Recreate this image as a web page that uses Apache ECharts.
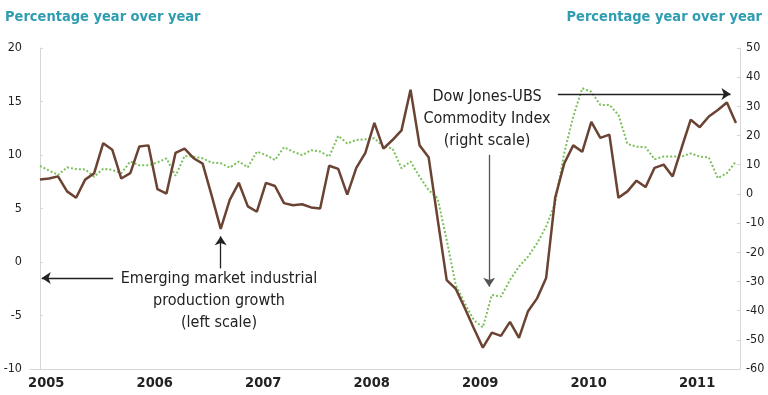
<!DOCTYPE html>
<html>
<head>
<meta charset="utf-8">
<script src="https://cdn.jsdelivr.net/npm/echarts@6/dist/echarts.min.js"></script>
<style>
  html, body { margin: 0; padding: 0; background: #fff; }
  #chart { width: 768px; height: 395px; }
</style>
</head>
<body>
<div id="chart"></div>
<script>
// monthly points, Jan 2005 .. Jun 2011 (index 0..77)
var years = ['2005', '2006', '2007', '2008', '2009', '2010', '2011']

// emerging market industrial production growth, % y/y (left scale)
var industrial = [
  7.7, 7.8, 8.0, 6.6, 6.0, 7.7, 8.3, 11.1, 10.5, 7.8, 8.3, 10.8,
  10.9, 6.8, 6.4, 10.2, 10.6, 9.7, 9.2, 6.2, 3.1, 5.8, 7.4, 5.2,
  4.7, 7.4, 7.1, 5.5, 5.3, 5.4, 5.1, 5.0, 9.0, 8.7, 6.3, 8.8,
  10.2, 13.0, 10.6, 11.4, 12.3, 16.1, 10.9, 9.8, 4.0, -1.7, -2.5, -4.3,
  -6.2, -8.0, -6.6, -6.9, -5.6, -7.1, -4.6, -3.4, -1.5, 6.0, 9.2, 10.9,
  10.3, 13.1, 11.6, 11.9, 6.0, 6.6, 7.6, 7.0, 8.8, 9.1, 8.0, 10.7,
  13.3, 12.6, 13.6, 14.2, 14.9, 13.0
]

// Dow Jones-UBS commodity index, % y/y (right scale)
var commodity = [
  9.6, 8.0, 6.5, 9.1, 8.5, 8.4, 5.9, 8.6, 8.2, 7.1, 11.1, 9.8,
  9.8, 10.8, 12.2, 6.2, 13.0, 12.8, 12.2, 10.7, 10.5, 9.0, 11.1, 9.1,
  14.5, 13.3, 11.6, 16.0, 14.5, 13.3, 15.0, 14.5, 12.8, 19.9, 17.3, 18.5,
  18.7, 19.1, 16.2, 15.6, 8.8, 11.1, 5.9, 1.3, -1.5, -15.8, -31.2, -37.5,
  -43.2, -45.7, -34.6, -35.2, -29.5, -24.9, -21.5, -16.9, -11.2, -3.2, 13.9, 26.5,
  36.2, 35.0, 30.5, 30.5, 27.1, 17.1, 16.2, 16.0, 11.9, 12.8, 12.8, 12.8,
  13.9, 12.8, 12.5, 5.4, 7.1, 11.1
]

var font = "'Liberation Sans Narrow', 'DejaVu Sans Condensed', Roboto, sans-serif"
var teal = '#2f9db1'

function pairs (arr) {
  return arr.map(function (v, i) { return [i, v] })
}

var yearTicks = years.map(function (y, i) { return i * 12 + 0.7 })

var myChart = echarts.init(document.getElementById('chart'))
var option = {
  animation: false,
  grid: { left: 30, right: 28, top: 48, bottom: 26 },
  xAxis: {
    type: 'value',
    min: -1.1,
    max: 77.45,
    axisLine: { onZero: false, lineStyle: { color: '#d6d6d6' } },
    axisTick: { show: false },
    splitLine: { show: false },
    axisLabel: {
      customValues: yearTicks,
      formatter: function (v) { return years[Math.round((v - 0.7) / 12)] },
      color: '#222',
      fontFamily: font,
      fontSize: 14.5,
      fontWeight: 'bold',
      margin: 7
    }
  },
  yAxis: [
    {
      type: 'value',
      min: -10,
      max: 20,
      interval: 5,
      axisLine: { show: true, lineStyle: { color: '#d6d6d6' } },
      axisTick: { show: true, inside: true, length: 3, lineStyle: { color: '#d6d6d6' } },
      splitLine: { show: false },
      axisLabel: { color: '#222', fontFamily: font, fontSize: 12.5, margin: 8 }
    },
    {
      type: 'value',
      min: -60,
      max: 50,
      interval: 10,
      position: 'right',
      axisLine: { show: true, lineStyle: { color: '#d6d6d6' } },
      axisTick: { show: true, inside: true, length: 3, lineStyle: { color: '#d6d6d6' } },
      splitLine: { show: false },
      axisLabel: { color: '#222', fontFamily: font, fontSize: 12.5, margin: 6 }
    }
  ],
  series: [
    {
      name: 'Dow Jones-UBS Commodity Index',
      type: 'line',
      yAxisIndex: 1,
      data: pairs(commodity),
      showSymbol: false,
      lineStyle: { color: '#7dbf5c', width: 2, type: [2, 2] },
      z: 2,
      markLine: {
        silent: true,
        symbol: ['none', 'arrow'],
        symbolSize: 9,
        label: { show: false },
        lineStyle: { color: '#222', width: 1.3, type: 'solid' },
        data: [
          [{ coord: [57.3, 34.2] }, { coord: [76.4, 34.2] }],
          [{ coord: [49.7, 13.4] }, { coord: [49.7, -31.8], lineStyle: { color: '#555' } }]
        ]
      }
    },
    {
      name: 'Emerging market industrial production growth',
      type: 'line',
      yAxisIndex: 0,
      data: pairs(industrial),
      showSymbol: false,
      lineStyle: { color: '#6b4332', width: 2.5 },
      z: 3,
      markLine: {
        silent: true,
        symbol: ['none', 'arrow'],
        symbolSize: 9,
        label: { show: false },
        lineStyle: { color: '#222', width: 1.3, type: 'solid' },
        data: [
          [{ coord: [8.1, -1.5] }, { coord: [0.2, -1.5] }],
          [{ coord: [20, -0.6] }, { coord: [20, 2.4] }]
        ]
      }
    }
  ],
  graphic: [
    {
      type: 'text', left: 5, top: 10,
      style: { text: 'Percentage year over year', fill: teal, font: 'bold 14.5px ' + font }
    },
    {
      type: 'text', right: 6, top: 10,
      style: { text: 'Percentage year over year', fill: teal, font: 'bold 14.5px ' + font }
    },
    {
      type: 'text', x: 219, y: 268,
      style: {
        text: 'Emerging market industrial\nproduction growth\n(left scale)',
        fill: '#222', font: '16px ' + font, align: 'center', lineHeight: 22
      }
    },
    {
      type: 'text', x: 487, y: 86,
      style: {
        text: 'Dow Jones-UBS\nCommodity Index\n(right scale)',
        fill: '#222', font: '16px ' + font, align: 'center', lineHeight: 22
      }
    }
  ]
}
myChart.setOption(option)
window.addEventListener('resize', function () {
  myChart.resize()
})
</script>
</body>
</html>
